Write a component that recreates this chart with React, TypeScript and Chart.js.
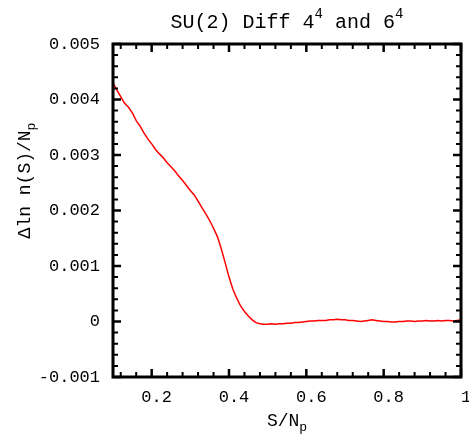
import React, { useEffect, useRef } from "react";
import { Chart, registerables } from "chart.js";

Chart.register(...registerables);

const S_VALUES = [
  0.10, 0.11, 0.12, 0.13, 0.14, 0.15, 0.16, 0.17, 0.18, 0.19,
  0.20, 0.21, 0.22, 0.23, 0.24, 0.25, 0.26, 0.27, 0.28, 0.29,
  0.30, 0.31, 0.32, 0.33, 0.34, 0.35, 0.36, 0.37, 0.38, 0.39,
  0.40, 0.41, 0.42, 0.43, 0.44, 0.45, 0.46, 0.47, 0.48, 0.49,
  0.50, 0.51, 0.52, 0.53, 0.54, 0.55, 0.56, 0.57, 0.58, 0.59,
  0.60, 0.61, 0.62, 0.63, 0.64, 0.65, 0.66, 0.67, 0.68, 0.69,
  0.70, 0.71, 0.72, 0.73, 0.74, 0.75, 0.76, 0.77, 0.78, 0.79,
  0.80, 0.81, 0.82, 0.83, 0.84, 0.85, 0.86, 0.87, 0.88, 0.89,
  0.90, 0.91, 0.92, 0.93, 0.94, 0.95, 0.96, 0.97, 0.98, 0.99,
  1.00,
];

const DIFF_VALUES = [
  0.00430, 0.00417, 0.00405, 0.00393, 0.00386, 0.00376, 0.00362, 0.00352, 0.00340, 0.00329,
  0.00320, 0.00310, 0.00302, 0.00295, 0.00286, 0.00279, 0.00271, 0.00262, 0.00254, 0.00245,
  0.00236, 0.00228, 0.00217, 0.00205, 0.00194, 0.00182, 0.00168, 0.00153, 0.00131, 0.00106,
  0.00080, 0.00058, 0.00042, 0.00028, 0.00018, 0.00010, 0.00003, -0.00002, -0.00004, -0.00005,
  -0.00005, -0.00004, -0.00005, -0.00004, -0.00004, -0.00003, -0.00003, -0.00002, -0.00002, -0.00001,
  0.00000, 0.00001, 0.00001, 0.00002, 0.00002, 0.00002, 0.00003, 0.00003, 0.00004, 0.00003,
  0.00003, 0.00002, 0.00002, 0.00001, 0.00000, 0.00001, 0.00002, 0.00003, 0.00002, 0.00001,
  0.00000, 0.00000, -0.00001, -0.00001, 0.00000, 0.00000, 0.00001, 0.00001, 0.00000, 0.00001,
  0.00001, 0.00002, 0.00001, 0.00001, 0.00002, 0.00001, 0.00002, 0.00002, 0.00001, 0.00002,
  0.00003,
];

const X_TICKS = [0.2, 0.4, 0.6, 0.8, 1.0];
const Y_TICKS = [-0.001, 0, 0.001, 0.002, 0.003, 0.004, 0.005];
const X_MIN = 0.1;
const X_MAX = 1.0;
const Y_MIN = -0.001;
const Y_MAX = 0.005;

const TITLE_PARTS = ["SU(2) Diff 4", "4", " and 6", "4"];
const X_TITLE = ["S/N", "p"];
const Y_TITLE = ["\u0394ln n(S)/N", "p"];

const FONT = '"Liberation Mono", "DejaVu Sans Mono", monospace';

const framePlugin = {
  id: "frameAndTexts",
  afterDatasetsDraw(chart: any) {
    const { ctx, chartArea, scales } = chart;
    const { left, right, top, bottom } = chartArea;
    const xs = scales.x;
    const ys = scales.y;
    ctx.save();
    ctx.strokeStyle = "#000";
    const majorLen = 8;
    const minorLen = 5;
    const xSub = (X_TICKS[1] - X_TICKS[0]) / 5;
    const xMinor: number[] = [];
    for (let v = X_TICKS[0] - xSub; v > X_MIN + 1e-9; v -= xSub) xMinor.push(v);
    for (let i = 0; i < X_TICKS.length - 1; i++) {
      for (let k = 1; k < 5; k++) xMinor.push(X_TICKS[i] + k * xSub);
    }
    const ySub = (Y_TICKS[1] - Y_TICKS[0]) / 5;
    const yMinor: number[] = [];
    for (let i = 0; i < Y_TICKS.length - 1; i++) {
      for (let k = 1; k < 5; k++) yMinor.push(Y_TICKS[i] + k * ySub);
    }
    ctx.lineWidth = 2.5;
    ctx.beginPath();
    X_TICKS.forEach((v) => {
      const px = xs.getPixelForValue(v);
      ctx.moveTo(px, bottom);
      ctx.lineTo(px, bottom - majorLen);
      ctx.moveTo(px, top);
      ctx.lineTo(px, top + majorLen);
    });
    Y_TICKS.forEach((v) => {
      const py = ys.getPixelForValue(v);
      ctx.moveTo(left, py);
      ctx.lineTo(left + majorLen, py);
      ctx.moveTo(right, py);
      ctx.lineTo(right - majorLen, py);
    });
    ctx.stroke();
    ctx.lineWidth = 2;
    ctx.beginPath();
    xMinor.forEach((v) => {
      const px = xs.getPixelForValue(v);
      ctx.moveTo(px, bottom);
      ctx.lineTo(px, bottom - minorLen);
      ctx.moveTo(px, top);
      ctx.lineTo(px, top + minorLen);
    });
    yMinor.forEach((v) => {
      const py = ys.getPixelForValue(v);
      ctx.moveTo(left, py);
      ctx.lineTo(left + minorLen, py);
      ctx.moveTo(right, py);
      ctx.lineTo(right - minorLen, py);
    });
    ctx.stroke();
    ctx.lineWidth = 3;
    ctx.strokeRect(left, top, right - left, bottom - top);

    // title
    ctx.fillStyle = "#000";
    ctx.textBaseline = "alphabetic";
    ctx.textAlign = "left";
    const big = "20px " + FONT;
    const sup = "14px " + FONT;
    const fonts = [big, sup, big, sup];
    const offs = [0, -10, 0, -10];
    let total = 0;
    const widths = TITLE_PARTS.map((t, i) => {
      ctx.font = fonts[i];
      const w = ctx.measureText(t).width;
      total += w;
      return w;
    });
    let x0 = (left + right) / 2 - total / 2;
    TITLE_PARTS.forEach((t, i) => {
      ctx.font = fonts[i];
      ctx.fillText(t, x0, 28 + offs[i]);
      x0 += widths[i];
    });

    // x title
    const axBig = "18px " + FONT;
    const axSub = "13px " + FONT;
    ctx.font = axBig;
    const w1 = ctx.measureText(X_TITLE[0]).width;
    ctx.font = axSub;
    const w2 = ctx.measureText(X_TITLE[1]).width;
    const xx = (left + right) / 2 - (w1 + w2) / 2;
    ctx.font = axBig;
    ctx.fillText(X_TITLE[0], xx, 426);
    ctx.font = axSub;
    ctx.fillText(X_TITLE[1], xx + w1, 431);

    // y title
    ctx.save();
    ctx.translate(30, (top + bottom) / 2 - 30);
    ctx.rotate(-Math.PI / 2);
    ctx.font = axBig;
    const v1 = ctx.measureText(Y_TITLE[0]).width;
    ctx.font = axSub;
    const v2 = ctx.measureText(Y_TITLE[1]).width;
    const yy = -(v1 + v2) / 2;
    ctx.font = axBig;
    ctx.fillText(Y_TITLE[0], yy, 0);
    ctx.font = axSub;
    ctx.fillText(Y_TITLE[1], yy + v1, 5);
    ctx.restore();

    ctx.restore();
  },
};

export default function App() {
  const ref = useRef<HTMLCanvasElement>(null);
  useEffect(() => {
    if (!ref.current) return;
    const chart = new Chart(ref.current, {
      type: "line",
      data: {
        datasets: [
          {
            data: S_VALUES.map((s, i) => ({ x: s, y: DIFF_VALUES[i] })),
            borderColor: "#ff0000",
            borderWidth: 1.5,
            pointRadius: 0,
            tension: 0,
            fill: false,
          },
        ],
      },
      options: {
        animation: false,
        responsive: false,
        layout: { padding: { top: 44, right: 8, left: 0, bottom: 0 } },
        plugins: {
          legend: { display: false },
          title: { display: false },
          tooltip: { enabled: false },
        },
        scales: {
          x: {
            type: "linear",
            min: X_MIN,
            max: X_MAX,
            afterBuildTicks: (s: any) => {
              s.ticks = X_TICKS.map((v) => ({ value: v }));
            },
            afterFit: (s: any) => {
              s.height = 57;
              s.paddingLeft = 0;
              s.paddingRight = 0;
            },
            grid: { display: false, drawTicks: false },
            border: { display: false },
            ticks: {
              autoSkip: false,
              maxRotation: 0,
              padding: 10,
              labelOffset: 5,
              color: "#000",
              font: { family: FONT, size: 17 },
              callback: (v: any) => (Math.abs(v - 1) < 1e-9 ? "1" : Number(v).toFixed(1)),
            },
          },
          y: {
            type: "linear",
            min: Y_MIN,
            max: Y_MAX,
            afterBuildTicks: (s: any) => {
              s.ticks = Y_TICKS.map((v) => ({ value: v }));
            },
            afterFit: (s: any) => {
              s.width = 113;
              s.paddingTop = 0;
              s.paddingBottom = 0;
            },
            grid: { display: false, drawTicks: false },
            border: { display: false },
            ticks: {
              autoSkip: false,
              padding: 13,
              color: "#000",
              font: { family: FONT, size: 17 },
              callback: (v: any) => (Math.abs(v) < 1e-12 ? "0" : Number(v).toFixed(3)),
            },
          },
        },
      },
      plugins: [framePlugin],
    });
    return () => chart.destroy();
  }, []);
  return (
    <div style={{ position: "fixed", left: 0, top: 0, width: 469, height: 434, background: "#fff" }}>
      <canvas ref={ref} width={469} height={434} style={{ width: 469, height: 434 }} />
    </div>
  );
}
